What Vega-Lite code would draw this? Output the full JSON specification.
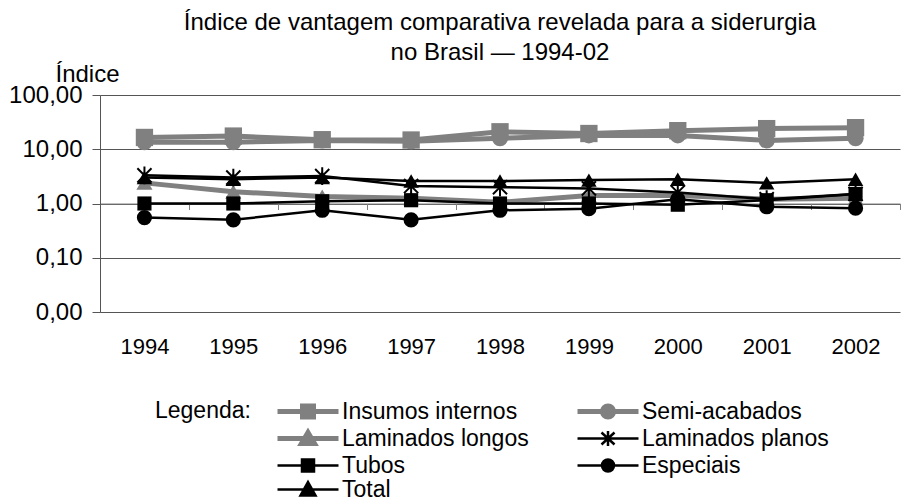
{
  "$schema": "https://vega.github.io/schema/vega-lite/v6.json",
  "autosize": {"type": "none"},
  "padding": {"left": 100, "top": 95, "right": 2, "bottom": 188},
  "width": 800,
  "height": 217,
  "background": "white",
  "title": {
    "text": ["Índice de vantagem comparativa revelada para a siderurgia", "no Brasil — 1994-02"],
    "font": "Liberation Sans, Arial, sans-serif",
    "fontSize": 24,
    "fontWeight": "normal",
    "color": "black",
    "anchor": "middle",
    "lineHeight": 30,
    "offset": 0,
    "dy": 3
  },
  "data": {
    "values": [
      {"Ano": "1994", "Serie": "Insumos internos", "Indice": 16.5},
      {"Ano": "1995", "Serie": "Insumos internos", "Indice": 17.5},
      {"Ano": "1996", "Serie": "Insumos internos", "Indice": 15.0},
      {"Ano": "1997", "Serie": "Insumos internos", "Indice": 14.8},
      {"Ano": "1998", "Serie": "Insumos internos", "Indice": 21.0},
      {"Ano": "1999", "Serie": "Insumos internos", "Indice": 19.5},
      {"Ano": "2000", "Serie": "Insumos internos", "Indice": 22.0},
      {"Ano": "2001", "Serie": "Insumos internos", "Indice": 24.0},
      {"Ano": "2002", "Serie": "Insumos internos", "Indice": 25.0},
      {"Ano": "1994", "Serie": "Semi-acabados", "Indice": 13.5},
      {"Ano": "1995", "Serie": "Semi-acabados", "Indice": 13.5},
      {"Ano": "1996", "Serie": "Semi-acabados", "Indice": 14.5},
      {"Ano": "1997", "Serie": "Semi-acabados", "Indice": 14.0},
      {"Ano": "1998", "Serie": "Semi-acabados", "Indice": 16.0},
      {"Ano": "1999", "Serie": "Semi-acabados", "Indice": 18.0},
      {"Ano": "2000", "Serie": "Semi-acabados", "Indice": 18.0},
      {"Ano": "2001", "Serie": "Semi-acabados", "Indice": 14.5},
      {"Ano": "2002", "Serie": "Semi-acabados", "Indice": 16.0},
      {"Ano": "1994", "Serie": "Laminados longos", "Indice": 2.4},
      {"Ano": "1995", "Serie": "Laminados longos", "Indice": 1.65},
      {"Ano": "1996", "Serie": "Laminados longos", "Indice": 1.35},
      {"Ano": "1997", "Serie": "Laminados longos", "Indice": 1.25},
      {"Ano": "1998", "Serie": "Laminados longos", "Indice": 1.05},
      {"Ano": "1999", "Serie": "Laminados longos", "Indice": 1.4},
      {"Ano": "2000", "Serie": "Laminados longos", "Indice": 1.4},
      {"Ano": "2001", "Serie": "Laminados longos", "Indice": 1.2},
      {"Ano": "2002", "Serie": "Laminados longos", "Indice": 1.25},
      {"Ano": "1994", "Serie": "Laminados planos", "Indice": 3.3},
      {"Ano": "1995", "Serie": "Laminados planos", "Indice": 3.0},
      {"Ano": "1996", "Serie": "Laminados planos", "Indice": 3.2},
      {"Ano": "1997", "Serie": "Laminados planos", "Indice": 2.1},
      {"Ano": "1998", "Serie": "Laminados planos", "Indice": 2.0},
      {"Ano": "1999", "Serie": "Laminados planos", "Indice": 1.9},
      {"Ano": "2000", "Serie": "Laminados planos", "Indice": 1.6},
      {"Ano": "2001", "Serie": "Laminados planos", "Indice": 1.2},
      {"Ano": "2002", "Serie": "Laminados planos", "Indice": 1.5},
      {"Ano": "1994", "Serie": "Tubos", "Indice": 1.0},
      {"Ano": "1995", "Serie": "Tubos", "Indice": 1.0},
      {"Ano": "1996", "Serie": "Tubos", "Indice": 1.1},
      {"Ano": "1997", "Serie": "Tubos", "Indice": 1.15},
      {"Ano": "1998", "Serie": "Tubos", "Indice": 1.0},
      {"Ano": "1999", "Serie": "Tubos", "Indice": 1.0},
      {"Ano": "2000", "Serie": "Tubos", "Indice": 0.95},
      {"Ano": "2001", "Serie": "Tubos", "Indice": 1.15},
      {"Ano": "2002", "Serie": "Tubos", "Indice": 1.5},
      {"Ano": "1994", "Serie": "Especiais", "Indice": 0.55},
      {"Ano": "1995", "Serie": "Especiais", "Indice": 0.5},
      {"Ano": "1996", "Serie": "Especiais", "Indice": 0.75},
      {"Ano": "1997", "Serie": "Especiais", "Indice": 0.5},
      {"Ano": "1998", "Serie": "Especiais", "Indice": 0.75},
      {"Ano": "1999", "Serie": "Especiais", "Indice": 0.8},
      {"Ano": "2000", "Serie": "Especiais", "Indice": 1.2},
      {"Ano": "2001", "Serie": "Especiais", "Indice": 0.87},
      {"Ano": "2002", "Serie": "Especiais", "Indice": 0.82},
      {"Ano": "1994", "Serie": "Total", "Indice": 3.0},
      {"Ano": "1995", "Serie": "Total", "Indice": 2.8},
      {"Ano": "1996", "Serie": "Total", "Indice": 3.0},
      {"Ano": "1997", "Serie": "Total", "Indice": 2.6},
      {"Ano": "1998", "Serie": "Total", "Indice": 2.6},
      {"Ano": "1999", "Serie": "Total", "Indice": 2.7},
      {"Ano": "2000", "Serie": "Total", "Indice": 2.8},
      {"Ano": "2001", "Serie": "Total", "Indice": 2.4},
      {"Ano": "2002", "Serie": "Total", "Indice": 2.8}
    ]
  },
  "encoding": {
    "y": {
      "field": "Indice",
      "type": "quantitative",
      "scale": {"type": "log", "domain": [0.01, 100], "nice": false},
      "axis": {
        "values": [0.01, 0.1, 1, 10, 100],
        "labelExpr": "datum.value < 0.05 ? '0,00' : replace(format(datum.value, '.2f'), '.', ',')",
        "labelFont": "Liberation Sans, Arial, sans-serif",
        "labelFontSize": 24,
        "labelColor": "black",
        "labelPadding": 10,
        "tickSize": 8,
        "tickColor": "#555555",
        "domainColor": "#555555",
        "grid": true,
        "gridColor": "#555555",
        "gridWidth": 1,
        "title": "Índice",
        "titleFont": "Liberation Sans, Arial, sans-serif",
        "titleFontSize": 24,
        "titleFontWeight": "normal",
        "titleColor": "black",
        "titleAngle": 0,
        "titleAlign": "left",
        "titleBaseline": "alphabetic",
        "titleX": -45,
        "titleY": -14
      }
    }
  },
  "layer": [
    {
      "transform": [{"filter": "indexof(['Insumos internos','Semi-acabados','Laminados longos'], datum.Serie) >= 0"}],
      "mark": {"type": "line", "strokeWidth": 5},
      "encoding": {
        "x": {
          "field": "Ano", "type": "ordinal",
          "scale": {"type": "point", "padding": 0.5},
          "axis": {
            "orient": "bottom",
            "title": null, "domain": false, "ticks": false, "tickSize": 0, "grid": false,
            "labelFont": "Liberation Sans, Arial, sans-serif",
            "labelFontSize": 22, "labelColor": "black", "labelPadding": 24, "labelAngle": 0
          }
        },
        "color": {
          "field": "Serie", "type": "nominal",
          "scale": {
            "domain": ["Insumos internos", "Semi-acabados", "Laminados longos", "Laminados planos", "Tubos", "Especiais", "Total"],
            "range": ["#808080", "#808080", "#808080", "black", "black", "black", "black"]
          },
          "legend": {
            "title": "Legenda:",
            "orient": "none",
            "legendX": 55,
            "legendY": 305,
            "columns": 2,
            "direction": "horizontal",
            "columnPadding": 38,
            "rowPadding": -20,
            "titleOrient": "left",
            "titleAngle": 0,
            "titleAnchor": "start",
            "titleBaseline": "top",
            "titlePadding": 25,
            "titleFont": "Liberation Sans, Arial, sans-serif",
            "titleFontSize": 23,
            "titleFontWeight": "normal",
            "titleColor": "black",
            "labelFont": "Liberation Sans, Arial, sans-serif",
            "labelFontSize": 23,
            "labelColor": "black",
            "labelOffset": 43,
            "labelLimit": 300,
            "symbolSize": 400,
            "encode": {
              "symbols": {
                "update": {
                  "shape": {"signal": "datum.value == 'Insumos internos' ? 'M-1,0H5.1M1.5,-0.55H2.6V0.55H1.5Z' : datum.value == 'Tubos' ? 'M-1,0H5.1M1.45,-0.6H2.65V0.6H1.45Z' : datum.value == 'Semi-acabados' ? 'M-1,0H5.1M2.6,0A0.55,0.55 0 1,1 1.5,0A0.55,0.55 0 1,1 2.6,0Z' : datum.value == 'Especiais' ? 'M-1,0H5.1M2.65,0A0.6,0.6 0 1,1 1.45,0A0.6,0.6 0 1,1 2.65,0Z' : datum.value == 'Laminados planos' ? 'M-1,0H5.1M1.4,-0.6L2.7,0.6M1.4,0.6L2.7,-0.6M2.05,-0.75V0.75' : datum.value == 'Laminados longos' ? 'M-1,0H5.1M2.05,-0.6L2.7,0.5H1.4Z' : 'M-1,0H5.1M2.05,-0.75L2.8,0.6H1.3Z'"},
                  "fill": {"signal": "scale('color', datum.value)"},
                  "stroke": {"signal": "scale('color', datum.value)"},
                  "strokeWidth": {"signal": "indexof(['Insumos internos','Semi-acabados','Laminados longos'], datum.value) >= 0 ? 5 : 2.5"},
                  "opacity": {"value": 1}
                }
              }
            }
          }
        }
      }
    },
    {
      "transform": [{"filter": "datum.Serie == 'Insumos internos'"}],
      "mark": {"type": "point", "filled": true, "shape": "square", "size": 300, "opacity": 1},
      "encoding": {
        "x": {"field": "Ano", "type": "ordinal", "axis": null},
        "color": {"field": "Serie", "type": "nominal", "legend": null}
      }
    },
    {
      "transform": [{"filter": "datum.Serie == 'Semi-acabados'"}],
      "mark": {"type": "point", "filled": true, "shape": "circle", "size": 260, "opacity": 1},
      "encoding": {
        "x": {"field": "Ano", "type": "ordinal", "axis": null},
        "color": {"field": "Serie", "type": "nominal", "legend": null}
      }
    },
    {
      "transform": [{"filter": "datum.Serie == 'Laminados longos'"}],
      "mark": {"type": "point", "filled": true, "shape": "triangle-up", "size": 260, "opacity": 1},
      "encoding": {
        "x": {"field": "Ano", "type": "ordinal", "axis": null},
        "color": {"field": "Serie", "type": "nominal", "legend": null}
      }
    },
    {
      "transform": [{"filter": "indexof(['Insumos internos','Semi-acabados','Laminados longos'], datum.Serie) < 0"}],
      "mark": {"type": "line", "strokeWidth": 2.5},
      "encoding": {
        "x": {
          "field": "Ano", "type": "ordinal",
          "axis": {
            "orient": "bottom",
            "title": null, "labels": false, "grid": false,
            "domain": true, "domainColor": "#808080", "domainWidth": 1,
            "ticks": true, "tickColor": "#808080", "tickSize": 6, "tickOffset": 44.44,
            "offset": -108.5
          }
        },
        "color": {"field": "Serie", "type": "nominal", "legend": null}
      }
    },
    {
      "transform": [{"filter": "datum.Serie == 'Laminados planos'"}],
      "mark": {"type": "point", "filled": false, "shape": "M-1,-1L1,1M-1,1L1,-1M0,-1.25V1.25", "size": 200, "strokeWidth": 2, "opacity": 1},
      "encoding": {
        "x": {"field": "Ano", "type": "ordinal", "axis": null},
        "color": {"field": "Serie", "type": "nominal", "legend": null}
      }
    },
    {
      "transform": [{"filter": "datum.Serie == 'Tubos'"}],
      "mark": {"type": "point", "filled": true, "shape": "square", "size": 200, "opacity": 1},
      "encoding": {
        "x": {"field": "Ano", "type": "ordinal", "axis": null},
        "color": {"field": "Serie", "type": "nominal", "legend": null}
      }
    },
    {
      "transform": [{"filter": "datum.Serie == 'Especiais'"}],
      "mark": {"type": "point", "filled": true, "shape": "circle", "size": 230, "opacity": 1},
      "encoding": {
        "x": {"field": "Ano", "type": "ordinal", "axis": null},
        "color": {"field": "Serie", "type": "nominal", "legend": null}
      }
    },
    {
      "transform": [{"filter": "datum.Serie == 'Total'"}],
      "mark": {"type": "point", "filled": true, "shape": "triangle-up", "size": 240, "opacity": 1},
      "encoding": {
        "x": {"field": "Ano", "type": "ordinal", "axis": null},
        "color": {"field": "Serie", "type": "nominal", "legend": null}
      }
    }
  ],
  "resolve": {"axis": {"x": "independent"}},
  "config": {
    "view": {"stroke": null},
    "axis": {"labelFlush": false}
  }
}
